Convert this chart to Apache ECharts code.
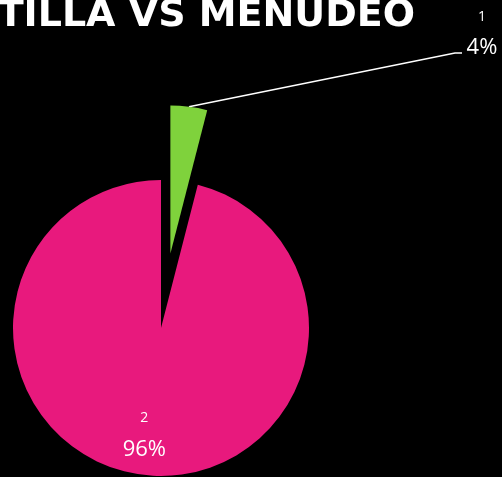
<!DOCTYPE html>
<html>
<head>
<meta charset="utf-8">
<script src="https://cdn.jsdelivr.net/npm/echarts@6/dist/echarts.min.js"></script>
<style>
  html, body { margin: 0; padding: 0; background: #000; }
  #chart { width: 502px; height: 477px; }
</style>
</head>
<body>
<div id="chart"></div>
<script>
  // datos del grafico
  var titleText = 'TILLA VS MENUDEO';
  var categories = ['1', '2'];
  var shares = [4, 96];
  var sliceColors = ['#7FD23C', '#E8197D'];

  var chart = echarts.init(document.getElementById('chart'), null, { renderer: 'canvas' });

  var pieCenter = [161, 328];
  var pieRadius = 148;
  var explode = 75; // desplazamiento de la rebanada 1

  // angulo medio de la rebanada 1 (desde las 12, sentido horario)
  var total = shares.reduce(function (a, b) { return a + b; }, 0);
  var midAngle = (shares[0] / total) * Math.PI;
  var explodedCenter = [
    pieCenter[0] + explode * Math.sin(midAngle),
    pieCenter[1] - explode * Math.cos(midAngle)
  ];

  function buildData(visibleIndex) {
    return categories.map(function (name, i) {
      var on = i === visibleIndex;
      return {
        name: name,
        value: shares[i],
        itemStyle: { color: on ? sliceColors[i] : 'rgba(0,0,0,0)' },
        label: { show: on },
        labelLine: { show: on && i === 0 }
      };
    });
  }

  var labelStyle = {
    show: true,
    color: '#ffffff',
    fontFamily: 'Open Sans',
    formatter: '{n|{b}}\n{p|{d}%}',
    rich: {
      n: { fontSize: 14, color: '#ffffff', fontFamily: 'Open Sans', lineHeight: 32, align: 'center' },
      p: { fontSize: 22, color: '#ffffff', fontFamily: 'Open Sans', lineHeight: 30, align: 'center' }
    }
  };

  var option = {
    backgroundColor: '#000000',
    animation: false,
    title: {
      text: titleText,
      right: 82,
      top: -8,
      textStyle: {
        color: '#ffffff',
        fontFamily: 'DejaVu Sans',
        fontWeight: 'bold',
        fontSize: 38
      }
    },
    series: [{
      // rebanada 2 (96%)
      type: 'pie',
      silent: true,
      center: pieCenter,
      radius: pieRadius,
      startAngle: 90,
      clockwise: true,
      avoidLabelOverlap: false,
      label: Object.assign({ position: 'inside' }, labelStyle),
      labelLayout: { dx: -7, dy: 29 },
      data: buildData(1)
    }, {
      // rebanada 1 (4%), separada
      type: 'pie',
      silent: true,
      center: explodedCenter,
      radius: pieRadius,
      startAngle: 90,
      clockwise: true,
      avoidLabelOverlap: false,
      label: Object.assign({ position: 'outside' }, labelStyle),
      labelLine: {
        show: true,
        lineStyle: { color: '#ffffff', width: 1.5 }
      },
      labelLayout: function (params) {
        var start = params.labelLinePoints ? params.labelLinePoints[0] : [189, 107];
        return {
          x: 482,
          y: 32,
          align: 'center',
          verticalAlign: 'middle',
          labelLinePoints: [start, [455, 53], [462, 53]]
        };
      },
      data: buildData(0)
    }]
  };

  chart.setOption(option);
</script>
</body>
</html>
